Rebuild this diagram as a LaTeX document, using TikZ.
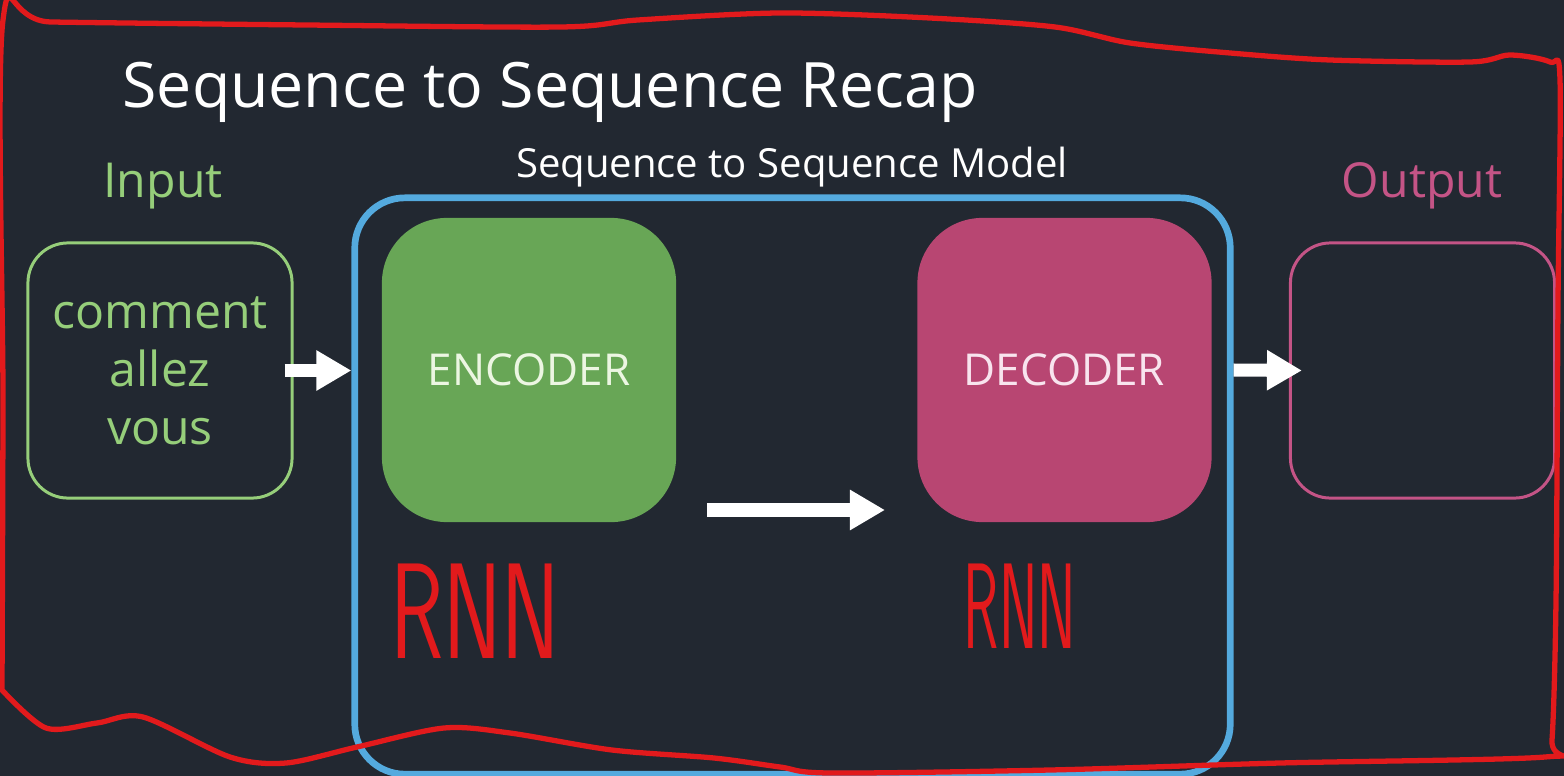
\documentclass[tikz,border=0pt]{standalone}
\usepackage{fontspec}
\setmainfont{Open Sans}
\usepackage{graphicx}
\usetikzlibrary{arrows.meta}

\definecolor{slatebg}{RGB}{34,40,49}
\definecolor{modelblue}{RGB}{84,170,222}
\definecolor{encgreen}{RGB}{104,166,86}
\definecolor{enctext}{RGB}{236,246,226}
\definecolor{decpink}{RGB}{184,70,114}
\definecolor{dectext}{RGB}{248,228,238}
\definecolor{ingreen}{RGB}{150,206,122}
\definecolor{outpink}{RGB}{196,84,134}
\definecolor{redpen}{RGB}{226,26,28}

\tikzset{
    framebox/.style={draw,line width=0.85pt,rounded corners=0.4cm,minimum width=2.64cm,minimum height=2.55cm,align=center},
    block/.style={rounded corners=0.65cm,minimum width=2.94cm,minimum height=3.04cm,font=\fontsize{12.5}{15}\selectfont},
    fatarrow/.style={white,line width=3.7pt,-{Triangle[length=0.35cm,width=0.38cm]}},
    scrawl/.style={redpen,line width=1.5pt,line cap=round,line join=round}
}

\begin{document}
\begin{tikzpicture}[x=0.01cm,y=-0.01cm]
        \fill[slatebg] (0,0) rectangle (1564,776);
        \useasboundingbox (0,0) rectangle (1564,776);

        \node[anchor=base,text=white,font=\fontsize{17.8}{21}\selectfont] (title) at (550,108) {Sequence to Sequence Recap};
        \node[anchor=base,text=white,font=\fontsize{11.4}{14}\selectfont] (modelname) at (792,178) {Sequence to Sequence Model};
        \node[anchor=base,text=ingreen,font=\fontsize{13.7}{16}\selectfont] (inlabel) at (163,197) {Input};
        \node[anchor=base,text=outpink,font=\fontsize{13.7}{16}\selectfont] (outlabel) at (1422,197) {Output};

        \node[draw=modelblue,line width=1.9pt,rounded corners=0.5cm,minimum width=8.75cm,minimum height=5.76cm] (model) at (792.5,486) {};
        \node[block,fill=encgreen,text=enctext] (enc) at (529,370) {ENCODER};
        \node[block,fill=decpink,text=dectext] (dec) at (1064.5,370) {DECODER};
        \node[framebox,draw=ingreen,text=ingreen,font=\fontsize{13.7}{16.5}\selectfont] (inbox) at (160,370.5) {\raisebox{-1.2pt}{comment}\\\raisebox{-1.2pt}{allez}\\\raisebox{-1.2pt}{vous}};
        \node[framebox,draw=outpink] (outbox) at (1422.5,370.5) {};

        \coordinate (gapstart) at (707,510);
        \coordinate (gapend) at (885,510);
        \draw[fatarrow] ([xshift=-0.09cm]inbox.east) -- (inbox.east -| model.west);
        \draw[fatarrow] (gapstart) -- (gapend);
        \draw[fatarrow] (dec.east -| model.east) -- ([xshift=0.13cm]outbox.west);

        \draw[scrawl] plot[smooth] coordinates {(2,690) (3,400) (3,20) (51,22) (306,25) (561,27) (638,20) (780,13) (930,18) (1055,27) (1130,43) (1230,53) (1330,60) (1470,62) (1510,55) (1550,62) (1560,80) (1558,300) (1556,600) (1552,740) (1545,757) (1280,763) (1050,770) (830,773) (780,767) (714,758) (612,750) (510,733) (444,728) (357,747) (286,763) (230,757) (143,717) (97,723) (46,728) (2,690)};

        \node[text=redpen,inner sep=0pt] (rnnenc) at (475,611) {\scalebox{1}[1.55]{\fontsize{25}{30}\selectfont\sffamily RNN}};
        \node[text=redpen,inner sep=0pt] (rnndec) at (1020,606) {\scalebox{1}[2.1]{\fontsize{16.5}{20}\selectfont\sffamily RNN}};
    \end{tikzpicture}
\end{document}
